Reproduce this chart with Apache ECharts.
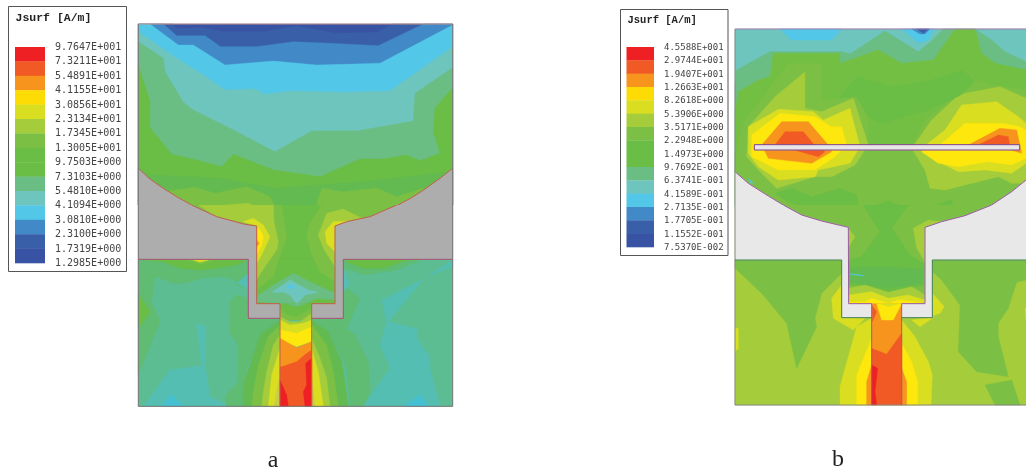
<!DOCTYPE html>
<html><head><meta charset="utf-8">
<style>html,body{margin:0;padding:0;background:#fff}#c{width:1026px;height:470px}</style>
<script src="https://cdn.jsdelivr.net/npm/echarts@6/dist/echarts.min.js"></script>
</head><body><div id="c"></div>
<script>
// legend bands, top to bottom (indices 0..14), then the field tints seen in the plots
var bandColors=['#EE2024','#F15A24','#F7941E','#FDDC06','#D9DE21','#A5CC3A','#7BC044','#6ABD45','#6ABD45','#6ABE83','#6EC5BE','#52C7E8','#4189C7','#3A5FA9','#3853A3'];
var tintColors=['#5DBD92','#55BEB2','#5FBC72','#45C0D0','#C8CC46','#ADADAD','#E8E8E8','#73BF44','#62BA50','#FDE70C'];
var GA=20,GB=21,T9=15,T10=16,T8=17,T11=18,TAN=19,G6=22,G8=23,Y=24;
var labelsA=['9.7647E+001','7.3211E+001','5.4891E+001','4.1155E+001','3.0856E+001','2.3134E+001','1.7345E+001','1.3005E+001','9.7503E+000','7.3103E+000','5.4810E+000','4.1094E+000','3.0810E+000','2.3100E+000','1.7319E+000','1.2985E+000'];
var labelsB=['4.5588E+001','2.9744E+001','1.9407E+001','1.2663E+001','8.2618E+000','5.3906E+000','3.5171E+000','2.2948E+000','1.4973E+000','9.7692E-001','6.3741E-001','4.1589E-001','2.7135E-001','1.7705E-001','1.1552E-001','7.5370E-002'];

// contour regions: [band, x,y, x,y, ...] in the field coordinates of each view, painted in order
var aTop=[
[14,25,27,968,27,968,630,25,630],
[13,25,27,130,27,140,40,215,38,280,50,400,50,500,33,620,55,740,52,790,27,968,27,968,630,25,630],
[12,25,27,100,27,140,62,225,62,272,95,380,95,490,80,600,85,745,92,880,27,968,27,968,630,25,630],
[11,25,27,60,27,145,90,190,90,285,150,430,138,560,150,750,145,968,30,968,630,25,630],
[10,25,50,140,130,220,180,285,225,375,222,405,238,480,228,640,232,780,228,968,95,968,630,25,630],
[9,25,80,100,130,105,170,160,262,190,285,300,340,435,410,545,348,685,347,850,318,855,235,968,158,968,630,25,630],
[7,25,150,60,260,60,338,125,418,200,435,275,455,310,418,430,465,570,485,690,432,760,432,830,420,870,437,930,415,910,350,915,280,968,218,968,630,25,630],
[G8,25,460,60,480,270,490,430,520,570,510,700,500,968,470,968,630,25,630],
[6,100,530,195,517,255,535,350,515,420,545,455,610,455,630,100,630],
[6,540,630,575,520,640,530,740,520,800,545,880,520,880,630],
[5,190,575,250,590,285,570,355,565,430,600,430,630,190,630],
[5,580,630,580,600,620,580,680,590,720,605,720,630],
[4,350,630,365,610,400,625,400,630],
[4,605,630,650,615,665,630]
];
var aBottom=[
// lower field
[T9,25,163,968,163,968,604,25,604],
[T8,25,163,355,163,355,250,320,240,315,225,280,215,215,220,165,235,130,235,75,215,65,290,90,350,25,510],
[7,25,163,355,163,320,180,260,190,210,195,150,190,100,170],
[6,165,163,260,163,215,178],
[4,190,165,235,165,210,172],
[7,25,265,60,320,25,370],
[T10,40,604,120,495,215,482,200,355,228,365,225,480,240,575,300,604],
[T11,95,604,125,568,160,604],
[T10,355,205,320,235,355,250],
[T10,640,195,660,235,640,270],
[T8,640,163,880,163,800,195,700,210,660,195,640,190],
[7,640,163,830,165,760,190,700,190,660,175],
[T10,880,222,755,285,770,350,750,420,780,490,700,604,930,604,900,490,900,455,860,400,862,372,775,350],
[T10,895,212,968,165,968,185],
[T11,820,604,870,570,895,604],
// upper field and neck
[7,25,0,968,0,968,163,25,163],
[7,380,160,615,160,615,296,380,296],
[6,190,0,455,0,470,100,445,165,430,215,385,250,380,60,260,35],
[6,530,90,540,55,575,0,800,0,720,40,615,60,615,230,570,200,545,150],
[5,205,0,430,0,432,50,445,110,440,135,415,170,385,215,380,225,380,60,345,55,260,35],
[5,615,63,700,42,640,12,590,25,565,90,580,130,615,185],
[4,340,50,370,40,400,60,420,95,395,150,380,175,380,62],
[4,615,63,655,48,610,50,585,80,590,115,615,140],
[Y,380,65,390,75,400,95,395,120,380,150],
[2,380,105,388,115,380,125],
[9,385,270,430,240,490,205,560,240,615,265,615,285,560,280,525,296,500,305,470,296,380,290],
[10,425,262,480,225,535,255,565,262,525,270,500,298,480,270,460,262],
[11,472,245,485,238,495,248,480,252],
// halos round the feed
[T8,355,340,450,340,390,395,350,490,340,604,290,604,285,575,325,530,325,420,300,385,300,290,320,270,355,280],
[T8,640,340,545,340,600,385,650,490,660,604,700,604,720,560,715,470,675,390,650,370,690,280,650,250,640,262],
[G8,450,345,390,390,340,540,340,604,450,604],
[G8,545,345,595,380,635,470,655,604,545,604],
[6,450,360,415,395,385,480,370,560,365,604,450,604],
[6,545,360,590,420,610,500,625,604,545,604],
[5,450,390,430,420,410,500,400,560,395,604,450,604],
[5,545,400,570,460,590,520,600,604,545,604],
[4,450,430,425,510,415,604,450,604],
[4,545,430,565,500,580,604,545,604],
[TAN,445,530,432,604,450,604],
[TAN,545,520,555,604,545,604],
// inside the feed
[7,450,296,545,296,545,340,450,340],
[9,470,296,500,305,525,296],
[6,450,310,470,330,500,335,530,320,545,310,545,345,450,345],
[5,450,335,480,350,510,350,545,325,545,365,450,365],
[4,450,345,480,360,520,355,545,345,545,385,450,385],
[Y,450,375,500,385,545,365,545,410,500,425,450,405],
[2,450,400,500,428,545,410,545,604,450,604],
[1,450,487,500,470,530,445,545,435,545,604,450,604],
[0,450,525,470,570,475,604,450,604],
[0,545,460,527,475,530,540,520,560,525,604,545,604]
];
var aTopGray=[
[GA,25,460,60,492,100,520,140,545,185,570,185,600,25,600],
[GA,968,460,930,490,885,522,845,548,800,572,800,600,968,600]
];
var aBottomGray=[
[GA,25,0,185,0,260,35,345,58,380,63,380,296,450,296,450,340,355,340,355,163,25,163],
[GA,968,0,800,0,720,35,650,50,615,63,615,296,545,296,545,340,640,340,640,163,968,163]
];
var bTop=[
[10,30,27,903,27,903,630,30,630],
[11,165,27,350,27,320,60,200,60],
[11,530,27,625,27,610,60,580,68],
[12,560,27,615,27,600,42,585,42],
[13,575,27,610,27,595,40],
[9,30,195,35,150,135,95,355,95,375,102,480,33,580,95,620,62,655,27,750,27,800,60,840,95,903,125,903,630,30,630],
[G6,30,270,40,215,100,180,135,170,145,100,345,100,345,130,460,90,530,130,625,120,690,27,750,27,770,100,810,130,903,150,903,630,30,630],
[6,30,630,30,400,60,300,100,250,190,130,290,130,290,245,395,225,430,290,430,380,560,385,600,300,690,230,720,150,750,180,800,195,903,210,903,630],
[7,395,170,505,200,620,180,715,150,750,185,700,230,610,270,470,310,430,290,395,230,340,235],
[5,70,320,150,230,240,155,240,265,290,275,385,235,430,375,390,435,320,470,270,470,155,505,100,450,65,410],
[4,70,320,160,268,265,275,295,300,375,265,405,380,375,430,280,450,270,470,160,480,100,440,70,400],
[Y,80,345,165,280,270,290,320,320,350,320,365,375,330,410,270,450,160,450,80,410],
[2,110,375,170,305,250,305,310,375,320,395,260,430,130,415],
[1,150,375,180,335,235,335,268,375,300,395,280,410,215,392],
[5,560,385,620,300,690,235,720,220,825,200,903,235,903,490,860,490,820,470,660,510,615,505,600,450],
[4,590,385,660,330,710,255,815,245,880,290,903,310,903,430,860,460,780,450,700,455,650,430,590,395],
[Y,590,395,645,375,720,310,830,310,885,320,903,330,903,415,860,435,790,425,700,440,640,430],
[2,730,375,825,325,875,330,890,400,850,388],
[1,765,372,820,345,850,350,855,380,850,388],
[7,150,520,200,505,260,530,345,505,395,525,400,570,340,590,250,570,180,540],
[7,420,570,490,542,555,570,545,595,480,630,445,610],
[7,620,560,680,540,685,565,625,570],
[5,360,615,380,630,340,630],
[5,575,630,600,600,650,610,600,630],
[11,70,475,85,490,75,488]
];
var bTopGray=[
[GB,30,455,70,490,130,528,175,555,200,568,290,600,370,625,370,640,30,640],
[GB,903,480,860,515,800,555,750,578,680,600,600,625,600,640,903,640]
];
var bar=[[GB,88,374,884,374,884,390,88,390]];
var bBottom=[
// lower field
[5,30,165,903,165,903,600,30,600],
[6,30,165,350,165,350,205,290,265,270,340,275,365,215,490,185,355,110,265,30,190],
[6,622,165,903,165,903,225,875,232,850,310,820,355,820,395,850,515,755,500,700,440,705,300,650,225,622,200],
[6,780,540,860,525,885,600,810,600],
[4,30,370,40,370,40,430,30,440],
[4,900,310,903,310,903,345],
[4,350,240,320,280,325,340,385,375,420,340,350,338],
[4,622,265,658,305,645,325,600,340,560,345,585,365,622,340],
[4,395,365,345,545,345,600,440,600,440,340],
[4,530,345,570,395,610,470,622,510,618,600,530,600],
[Y,440,400,395,510,395,600,440,600],
[Y,530,415,560,470,578,530,578,600,530,600],
[2,440,480,425,530,425,600,440,600],
[2,530,490,545,530,545,600,530,600],
// upper field and neck
[6,30,0,903,0,903,165,30,165],
[6,371,160,600,160,600,296,371,296],
[7,415,0,550,0,500,70,555,150,600,180,600,240,490,262,420,240,371,240,371,165,410,155,465,80],
[5,565,70,610,45,650,50,600,65,600,170,575,130],
[5,370,70,390,95,372,125],
[G8,375,190,430,185,560,190,595,195,590,235,490,250,400,235,375,230],
[11,375,206,415,211,415,213,375,208],
[5,371,250,420,240,490,262,560,245,600,270,600,296,371,296],
[4,371,270,440,260,490,280,550,270,600,285,600,296,371,296],
[Y,371,290,420,290,440,280,490,295,520,285,590,292,530,296,371,296],
// inside the feed
[2,440,296,530,296,530,600,440,600],
[Y,455,296,530,296,505,345,470,345],
[4,465,296,490,305,520,296],
[1,440,430,485,448,530,385,530,600,440,600],
[1,440,300,455,320,442,350],
[0,440,480,458,490,450,560,455,600,440,600]
];
var bBottomGray=[
[GB,30,0,175,0,230,30,290,48,370,67,371,296,440,296,440,338,350,338,350,165,30,165],
[GB,903,0,800,0,720,32,650,50,600,67,600,296,530,296,530,338,622,338,622,165,903,165]
];
// outlines: [colour, width, x,y, x,y, ...]
var aTopLines=[
['#C49088',1,25,27,968,27],['#C0604A',1,25,460,60,492,100,520,140,545,185,570],['#C0604A',1,968,460,930,490,885,522,845,548,800,572],
['#777',1,25,27,25,570],['#777',1,968,27,968,570]
];
var aBottomLines=[
['#777',1,25,0,25,604,968,604,968,0],
['#C0604A',1,185,0,260,35,345,58,380,63,380,296,450,296,450,604],
['#C0604A',1,800,0,720,35,650,50,615,63,615,296,545,296,545,604],
['#A8507A',1,25,163,355,163,355,340,450,340],
['#A8507A',1,968,163,640,163,640,340,545,340]
];
var bTopLines=[
['#A77BB0',1,30,27,903,27],['#9A5BA0',1,30,455,70,490,130,528,175,555,200,568],
['#9A5BA0',1,903,480,860,515,800,555,750,578],['#888',1,30,27,30,640],
['#80408A',1,88,374,884,374,884,390,88,390,88,374]
];
var bBottomLines=[
['#888',1,30,0,30,600,903,600],
['#9A5BA0',1,175,0,230,30,290,48,370,67,371,296,440,296,440,600],
['#9A5BA0',1,800,0,720,32,650,50,600,67,600,296,530,296,530,600],
['#3F7F4F',1,30,165,350,165,350,338,440,338],
['#3F7F4F',1,903,165,622,165,622,338,530,338]
];

var palette=bandColors.concat(tintColors);
function pairs(a,from,api){var o=[];for(var i=from;i<a.length;i+=2)o.push(api.coord([a[i],a[i+1]]));return o;}
function fillSeries(list,g,z){return {type:'custom',coordinateSystem:'cartesian2d',xAxisIndex:g,yAxisIndex:g,clip:true,silent:true,animation:false,z:z,
  data:list.map(function(_,i){return [i,i];}),encode:{x:0,y:1},
  renderItem:function(p,api){var r=list[p.dataIndex];return {type:'polygon',shape:{points:pairs(r,1,api)},style:{fill:palette[r[0]],stroke:palette[r[0]],lineWidth:0.4}};}};}
function lineSeries(list,g,z){return {type:'custom',coordinateSystem:'cartesian2d',xAxisIndex:g,yAxisIndex:g,clip:true,silent:true,animation:false,z:z,
  data:list.map(function(_,i){return [i,i];}),encode:{x:0,y:1},
  renderItem:function(p,api){var r=list[p.dataIndex];return {type:'polyline',shape:{points:pairs(r,2,api)},style:{fill:null,stroke:r[0],lineWidth:r[1]}};}};}

// four views of the page, each with its own hidden axes
var views=[
{left:130,top:15,w:335,h:190,fills:aTop.concat(aTopGray),lines:aTopLines},
{left:130,top:205,w:335,h:210,fills:aBottom.concat(aBottomGray),lines:aBottomLines},
{left:725,top:20,w:301,h:185,fills:bTop.concat(bTopGray,bar),lines:bTopLines},
{left:725,top:205,w:301,h:210,fills:bBottom.concat(bBottomGray),lines:bBottomLines}
];
var grid=[],xAxis=[],yAxis=[],series=[];
views.forEach(function(v,i){
  grid.push({left:v.left,top:v.top,width:v.w,height:v.h,containLabel:false});
  xAxis.push({type:'value',gridIndex:i,min:0,max:v.w*3,show:false});
  yAxis.push({type:'value',gridIndex:i,min:0,max:v.h*3,inverse:true,show:false});
  series.push(fillSeries(v.fills,i,2+i));
  series.push(lineSeries(v.lines,i,10+i));
});

function legend(x,y,w,h,titleX,titleY,titleSize,barX,barW,barTop,barBot,labX,labSize,labels){
  var els=[{type:'rect',shape:{x:x,y:y,width:w,height:h},style:{fill:'#fff',stroke:'#555',lineWidth:1},z:20}];
  els.push({type:'text',x:titleX,y:titleY,style:{text:'Jsurf [A/m]',font:'bold '+titleSize+'px "Liberation Mono","DejaVu Sans Mono",monospace',fill:'#222',verticalAlign:'middle'},z:21});
  var step=(barBot-barTop)/bandColors.length;
  bandColors.forEach(function(c,i){els.push({type:'rect',shape:{x:barX,y:barTop+i*step,width:barW,height:step+0.3},style:{fill:c},z:21});});
  labels.forEach(function(t,i){els.push({type:'text',x:labX,y:barTop+i*step+0.5,style:{text:t,font:labSize+'px "DejaVu Sans Mono",monospace',fill:'#444',verticalAlign:'middle'},z:21});});
  return els;
}
var graphic=legend(8.5,6.5,118,265,15.5,18,11.5,15,30,47,263,55,10,labelsA)
 .concat(legend(620.5,9.5,107.5,246,627.5,20,10.5,626.5,27.5,47,247,664,9,labelsB))
 .concat([
  {type:'text',x:273,y:461,style:{text:'a',font:'24px "Liberation Serif",serif',fill:'#222',align:'center',verticalAlign:'middle'},z:21},
  {type:'text',x:838,y:460,style:{text:'b',font:'24px "Liberation Serif",serif',fill:'#222',align:'center',verticalAlign:'middle'},z:21}
 ]);
var chart=echarts.init(document.getElementById('c'),null,{renderer:'canvas'});
chart.setOption({animation:false,backgroundColor:'#fff',grid:grid,xAxis:xAxis,yAxis:yAxis,series:series,graphic:graphic});
</script></body></html>
